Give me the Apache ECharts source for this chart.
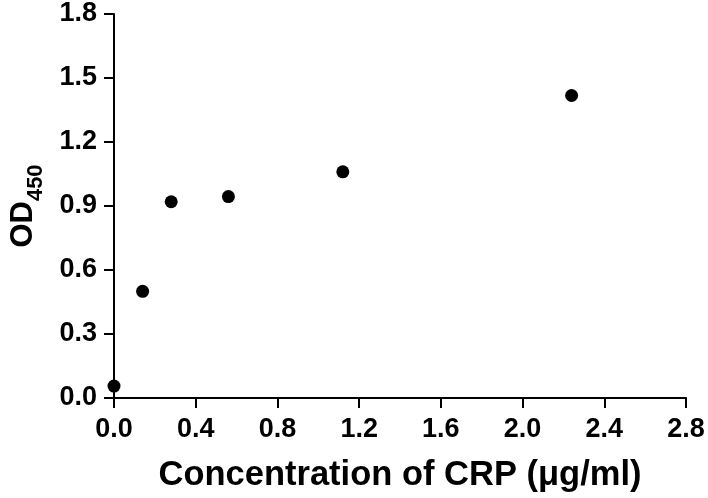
<!DOCTYPE html>
<html>
<head>
<meta charset="utf-8">
<script src="https://cdn.jsdelivr.net/npm/echarts@6/dist/echarts.min.js"></script>
<style>html,body{margin:0;padding:0;background:#fff}#c{width:708px;height:498px}</style>
</head>
<body>
<div id="c"></div>
<script>
var concentration = [0, 0.14, 0.28, 0.56, 1.12, 2.24];
var od450 = [0.056, 0.50, 0.92, 0.944, 1.06, 1.418];
var xTitle = 'Concentration of CRP (\u03bcg/ml)';
var yTitleMain = 'OD';
var yTitleSub = '450';

var chart = echarts.init(document.getElementById('c'), null, {renderer: 'canvas'});
var points = concentration.map(function (x, i) { return [x, od450[i]]; });
var axisText = {color: '#000', fontFamily: 'Liberation Sans', fontWeight: 'bold', fontSize: 27};
chart.setOption({
  animation: false,
  backgroundColor: '#fff',
  grid: {left: 114, right: 22, top: 14, bottom: 98, containLabel: false},
  xAxis: {
    type: 'value', min: 0, max: 2.8, interval: 0.4,
    axisLine: {show: true, onZero: false, lineStyle: {color: '#000', width: 2}},
    axisTick: {show: true, length: 10, lineStyle: {color: '#000', width: 2}},
    splitLine: {show: false},
    axisLabel: Object.assign({margin: 18, formatter: function (v) { return v.toFixed(1); }}, axisText),
    name: xTitle, nameLocation: 'middle', nameGap: 60,
    nameTextStyle: {color: '#000', fontFamily: 'Liberation Sans', fontWeight: 'bold', fontSize: 34.5}
  },
  yAxis: {
    type: 'value', min: 0, max: 1.8, interval: 0.3,
    axisLine: {show: true, onZero: false, lineStyle: {color: '#000', width: 2}},
    axisTick: {show: true, length: 10, lineStyle: {color: '#000', width: 2}},
    splitLine: {show: false},
    axisLabel: Object.assign({margin: 17, formatter: function (v) { return v.toFixed(1); }}, axisText),
    name: '{m|' + yTitleMain + '}{s|' + yTitleSub + '}',
    nameLocation: 'middle', nameGap: 74, nameRotate: 90,
    nameTextStyle: {
      color: '#000', fontFamily: 'Liberation Sans', fontWeight: 'bold',
      rich: {
        m: {fontFamily: 'Liberation Sans', fontWeight: 'bold', fontSize: 31, lineHeight: 32, color: '#000', verticalAlign: 'top'},
        s: {fontFamily: 'Liberation Sans', fontWeight: 'bold', fontSize: 22, lineHeight: 22, color: '#000', verticalAlign: 'top', padding: [17, 0, 0, 0]}
      }
    }
  },
  series: [{
    type: 'scatter',
    data: points,
    symbol: 'circle',
    symbolSize: 13,
    itemStyle: {color: '#000', opacity: 1}
  }]
});
</script>
</body>
</html>
